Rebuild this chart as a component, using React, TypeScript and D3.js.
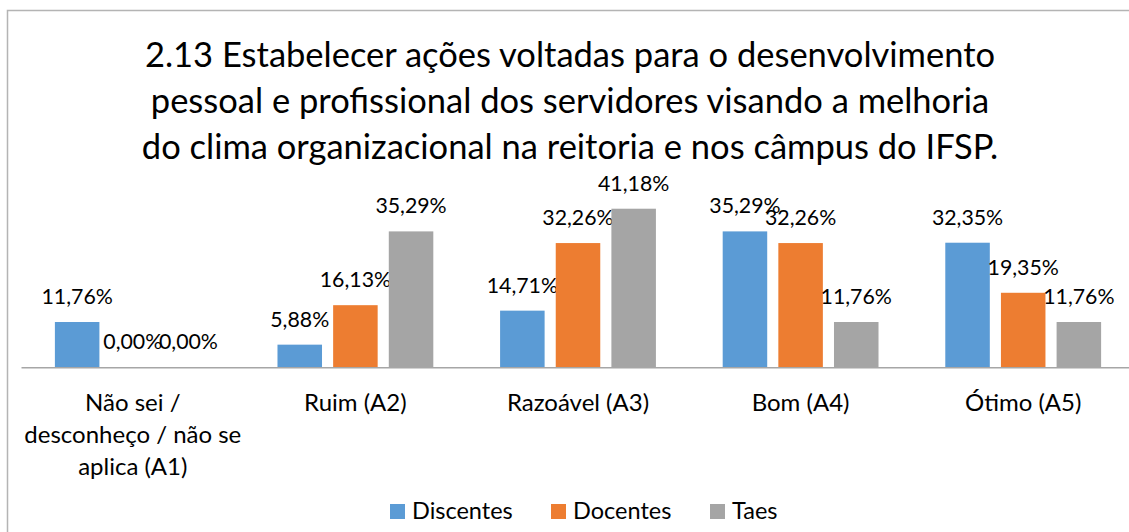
import * as d3 from 'd3'
import React from "react";

const categoryLines: string[][] = [
    ["Não sei /", "desconheço / não se", "aplica (A1)"],
    ["Ruim (A2)"],
    ["Razoável (A3)"],
    ["Bom (A4)"],
    ["Ótimo (A5)"],
];
const categories = categoryLines.map(l => l.join(" "));
const seriesNames = ["Discentes", "Docentes", "Taes"];
const discentes = [11.76, 5.88, 14.71, 35.29, 32.35];
const docentes = [0, 16.13, 32.26, 32.26, 19.35];
const taes = [0, 35.29, 41.18, 11.76, 11.76];
const titleLines = [
    "2.13 Estabelecer ações voltadas para o desenvolvimento",
    "pessoal e profissional dos servidores visando a melhoria",
    "do clima organizacional na reitoria e nos câmpus do IFSP.",
];

const colors = ["#5B9BD5", "#ED7D31", "#A5A5A5"];
const font = "Lato, 'Open Sans', sans-serif";

const App: React.FC = () => {
    const width = 1129;
    const height = 532;
    const values = [discentes, docentes, taes];

    const x0 = d3.scaleBand<string>().domain(categories).range([21.5, 1134.5]);
    const x1 = d3.scaleBand<string>().domain(seriesNames)
        .range([0, x0.bandwidth()]).paddingInner(0.2).paddingOuter(0.6);
    const y = d3.scaleLinear().domain([0, 45]).range([367.3, 194]);
    const fmt = (v: number) => v.toFixed(2).replace('.', ',') + '%';

    const legendX = [390, 551, 710];

    return (
        <svg width={width} height={height} style={{ position: 'absolute', left: 0, top: 0, background: '#fff' }}
            fontFamily={font}>
            <rect x={7.5} y={10.5} width={1200} height={600} fill="#fff" stroke="#b4b4b4" strokeWidth={1.5} />
            {titleLines.map((t, i) => (
                <text key={i} x={570} y={67 + i * 46} textAnchor="middle" fontSize={34.5} fill="#000">{t}</text>
            ))}
            {categories.map((c, ci) => (
                <g key={c}>
                    {seriesNames.map((s, si) => {
                        const v = values[si][ci];
                        const bx = (x0(c) ?? 0) + (x1(s) ?? 0);
                        return (
                            <g key={s}>
                                <rect x={bx} y={y(v)} width={x1.bandwidth()} height={y(0) - y(v)} fill={colors[si]} />
                                <text x={bx + x1.bandwidth() / 2} y={y(v) - 18} textAnchor="middle"
                                    fontSize={21.3} fill="#000">{fmt(v)}</text>
                            </g>
                        );
                    })}
                    {categoryLines[ci].map((l, li) => (
                        <text key={li} x={(x0(c) ?? 0) + x0.bandwidth() / 2} y={411 + li * 32}
                            textAnchor="middle" fontSize={24} fill="#000">{l}</text>
                    ))}
                </g>
            ))}
            <line x1={21.5} x2={1134.5} y1={y(0) + 0.5} y2={y(0) + 0.5} stroke="#a6a6a6" strokeWidth={1.5} />
            {seriesNames.map((s, i) => (
                <g key={s}>
                    <rect x={legendX[i]} y={504} width={15} height={15} fill={colors[i]} />
                    <text x={legendX[i] + 22} y={519} fontSize={23.5} fill="#000">{s}</text>
                </g>
            ))}
        </svg>
    );
}

export default App;
